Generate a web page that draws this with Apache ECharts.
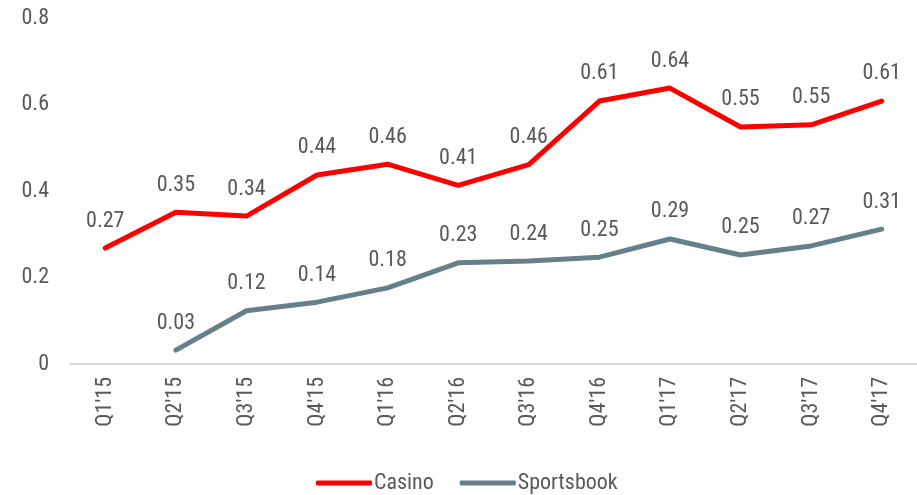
<!DOCTYPE html>
<html><head><meta charset="utf-8">
<script src="https://cdn.jsdelivr.net/npm/echarts@6/dist/echarts.min.js"></script>
<style>html,body{margin:0;padding:0;background:#fff}#c{width:917px;height:495px}</style>
</head><body><div id="c"></div>
<script>
const categories = ["Q1'15","Q2'15","Q3'15","Q4'15","Q1'16","Q2'16","Q3'16","Q4'16","Q1'17","Q2'17","Q3'17","Q4'17"];
const casino = [0.268, 0.351, 0.342, 0.437, 0.462, 0.413, 0.461, 0.608, 0.638, 0.548, 0.553, 0.608];
const sportsbook = [null, 0.032, 0.123, 0.143, 0.176, 0.234, 0.238, 0.247, 0.289, 0.252, 0.273, 0.312];
const yTicks = [0, 0.2, 0.4, 0.6, 0.8];

const FONT = "'Roboto Condensed','Liberation Sans Narrow',sans-serif";
const TXT = '#595959';
const FS = 22;
const chart = echarts.init(document.getElementById('c'));
const lbl = {show:true, position:'top', distance:16, color:TXT, fontFamily:FONT, fontSize:FS,
  formatter: p => p.value == null ? '' : Number(p.value).toFixed(2)};
chart.setOption({
  animation:false,
  textStyle:{fontFamily:FONT},
  grid:{left:70, top:18, width:853, bottom:131},
  legend:{bottom:-4, left:311, itemWidth:56, itemHeight:5, itemGap:26,
    textStyle:{color:TXT, fontSize:FS, fontFamily:FONT, padding:[0,0,0,-3]},
    data:[{name:'Casino', icon:'roundRect'},{name:'Sportsbook', icon:'roundRect'}]},
  xAxis:{type:'category', data:categories, boundaryGap:true,
    axisLine:{lineStyle:{color:'#d9d9d9', width:2}}, axisTick:{show:false},
    axisLabel:{rotate:90, color:TXT, fontSize:FS, fontFamily:FONT, margin:13}},
  yAxis:{type:'value', min:yTicks[0], max:yTicks[yTicks.length-1], interval:0.2,
    splitLine:{show:false}, axisLine:{show:false}, axisTick:{show:false},
    axisLabel:{color:TXT, fontSize:FS, fontFamily:FONT, margin:21,
      formatter: v => { const t = yTicks.find(x => Math.abs(x - v) < 1e-9); return t === 0 ? '0' : String(t); }}},
  series:[
    {name:'Casino', type:'line', data:casino, symbol:'circle', symbolSize:0.1, showSymbol:true,
     lineStyle:{color:'#ff0000', width:5, cap:'round', join:'round'}, itemStyle:{color:'#ff0000'}, label:lbl},
    {name:'Sportsbook', type:'line', data:sportsbook, symbol:'circle', symbolSize:0.1, showSymbol:true,
     lineStyle:{color:'#66808a', width:5, cap:'round', join:'round'}, itemStyle:{color:'#66808a'}, label:lbl}
  ]
});
</script></body></html>
